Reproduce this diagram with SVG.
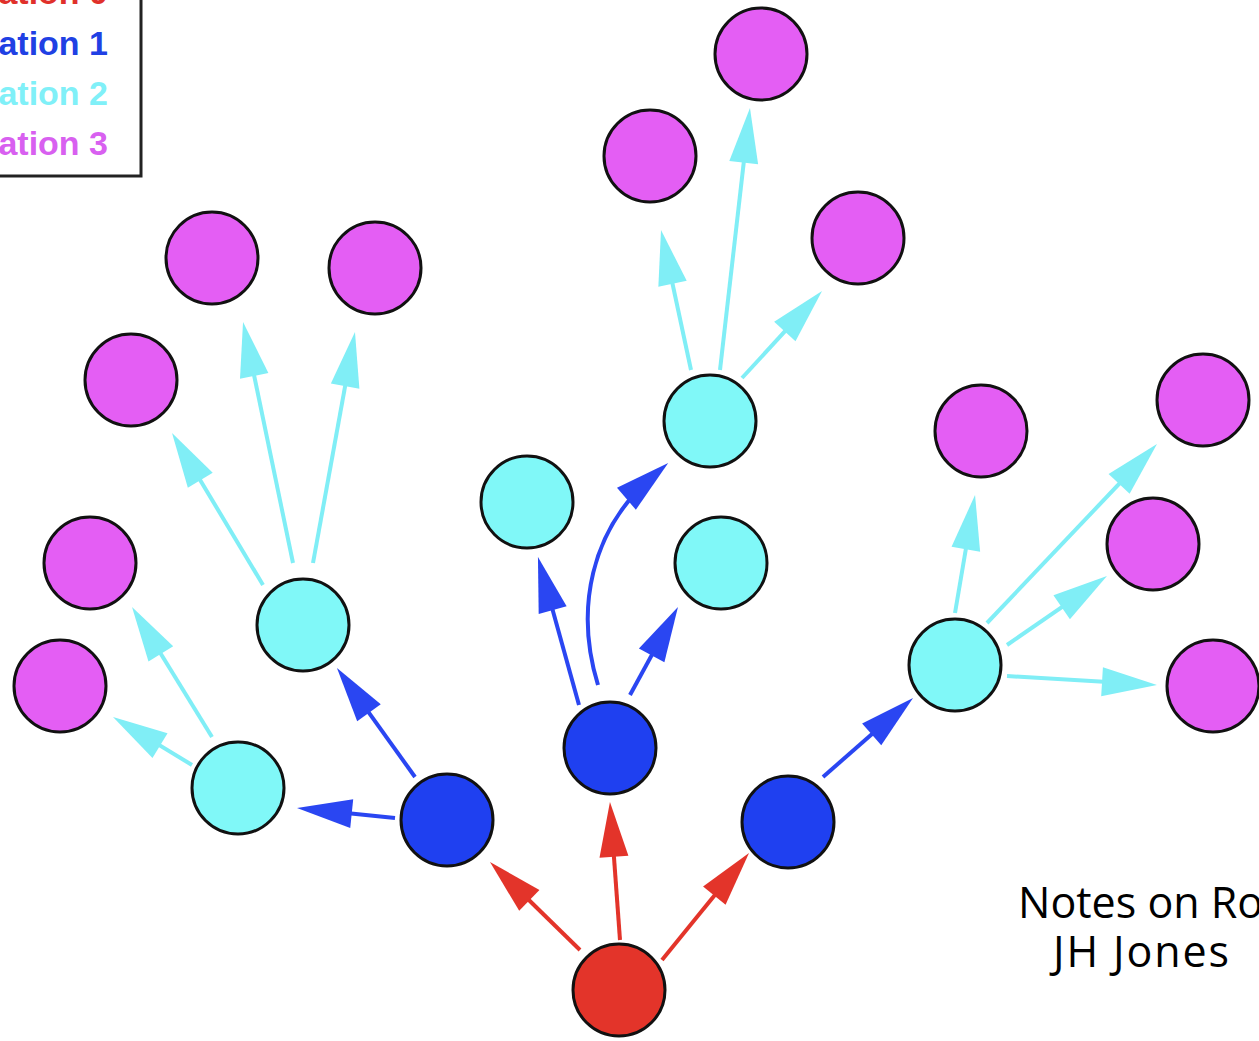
<svg xmlns="http://www.w3.org/2000/svg" width="1259" height="1041" viewBox="0 0 1259 1041">
<style>
.node{stroke:#111;stroke-width:3}
.g0{fill:#e3342a}
.g1{fill:#1f40f0}
.g2{fill:#80f8f8}
.g3{fill:#e45ef4}
.e{fill:none;stroke-width:4;stroke-linecap:butt}
.er{stroke:#e3342a}
.eb{stroke:#2a46f2}
.ec{stroke:#80eef6}
.leg{font-family:"Liberation Sans",Arial,sans-serif;font-weight:bold;font-size:34px;text-anchor:end}
.note{font-family:"Open Sans","Noto Sans",sans-serif;font-size:43px;fill:#000}
</style>
<defs>
<marker id="ar" markerUnits="userSpaceOnUse" markerWidth="60" markerHeight="32" viewBox="0 -16 60 32" refX="35" refY="0" orient="auto" overflow="visible"><path d="M0,-14.5 L55,0 L0,14.5 z" fill="#e3342a"/></marker>
<marker id="ab" markerUnits="userSpaceOnUse" markerWidth="60" markerHeight="32" viewBox="0 -16 60 32" refX="35" refY="0" orient="auto" overflow="visible"><path d="M0,-14.5 L55,0 L0,14.5 z" fill="#2a46f2"/></marker>
<marker id="ac" markerUnits="userSpaceOnUse" markerWidth="60" markerHeight="32" viewBox="0 -16 60 32" refX="35" refY="0" orient="auto" overflow="visible"><path d="M0,-14.5 L55,0 L0,14.5 z" fill="#80eef6"/></marker>
</defs>
<rect width="1259" height="1041" fill="#fff"/>
<g id="legend">
<rect x="-10" y="-10" width="151" height="186" fill="#fff" stroke="#222" stroke-width="3"/>
<text class="leg" x="108" y="4" fill="#e0302a">ation 0</text>
<text class="leg" x="108" y="55" fill="#2040e4">ation 1</text>
<text class="leg" x="108" y="105" fill="#80f0f8">ation 2</text>
<text class="leg" x="108" y="155" fill="#d860f0">ation 3</text>
</g>
<g id="connectors">
<path class="e er" d="M580,950 L504.3,876" marker-end="url(#ar)"/>
<path class="e er" d="M620,940 L611.4,821.9" marker-end="url(#ar)"/>
<path class="e er" d="M662,960 L736.4,868.5" marker-end="url(#ar)"/>
<path class="e eb" d="M395,818 L316.9,810" marker-end="url(#ab)"/>
<path class="e eb" d="M415,777 L348.6,684.3" marker-end="url(#ab)"/>
<path class="e eb" d="M579,705 L543.3,576.3" marker-end="url(#ab)"/>
<path class="e eb" d="M598,685 C575,610 590,530 653,476" marker-end="url(#ab)"/>
<path class="e eb" d="M630,695 L668.4,624.6" marker-end="url(#ab)"/>
<path class="e eb" d="M823,777 L898,711.2" marker-end="url(#ab)"/>
<path class="e ec" d="M192,765 L130.1,727.4" marker-end="url(#ac)"/>
<path class="e ec" d="M212,737 L142.5,624" marker-end="url(#ac)"/>
<path class="e ec" d="M263,585 L182.3,450.2" marker-end="url(#ac)"/>
<path class="e ec" d="M293,563 L247.1,341.6" marker-end="url(#ac)"/>
<path class="e ec" d="M313,563 L351.4,351.7" marker-end="url(#ac)"/>
<path class="e ec" d="M691,370 L665.2,249.6" marker-end="url(#ac)"/>
<path class="e ec" d="M720,370 L747.7,127.9" marker-end="url(#ac)"/>
<path class="e ec" d="M742,378 L808.5,305.7" marker-end="url(#ac)"/>
<path class="e ec" d="M955,613 L971.7,514.7" marker-end="url(#ac)"/>
<path class="e ec" d="M987,623 L1143.2,458.5" marker-end="url(#ac)"/>
<path class="e ec" d="M1007,645 L1090.5,587.4" marker-end="url(#ac)"/>
<path class="e ec" d="M1007,676 L1137,683.8" marker-end="url(#ac)"/>
</g>
<g id="n_root"><circle class="node g0" cx="619" cy="990" r="46"/></g>
<g id="n_b1"><circle class="node g1" cx="447" cy="820" r="46"/></g>
<g id="n_b2"><circle class="node g1" cx="610" cy="748" r="46"/></g>
<g id="n_b3"><circle class="node g1" cx="788" cy="822" r="46"/></g>
<g id="n_c1"><circle class="node g2" cx="238" cy="788" r="46"/></g>
<g id="n_c2"><circle class="node g2" cx="303" cy="625" r="46"/></g>
<g id="n_c3"><circle class="node g2" cx="527" cy="502" r="46"/></g>
<g id="n_c4"><circle class="node g2" cx="710" cy="421" r="46"/></g>
<g id="n_c5"><circle class="node g2" cx="721" cy="563" r="46"/></g>
<g id="n_c6"><circle class="node g2" cx="955" cy="665" r="46"/></g>
<g id="n_m1"><circle class="node g3" cx="60" cy="686" r="46"/></g>
<g id="n_m2"><circle class="node g3" cx="90" cy="563" r="46"/></g>
<g id="n_m3"><circle class="node g3" cx="131" cy="380" r="46"/></g>
<g id="n_m4"><circle class="node g3" cx="212" cy="258" r="46"/></g>
<g id="n_m5"><circle class="node g3" cx="375" cy="268" r="46"/></g>
<g id="n_m6"><circle class="node g3" cx="650" cy="156" r="46"/></g>
<g id="n_m7"><circle class="node g3" cx="761" cy="54" r="46"/></g>
<g id="n_m8"><circle class="node g3" cx="858" cy="238" r="46"/></g>
<g id="n_m9"><circle class="node g3" cx="981" cy="431" r="46"/></g>
<g id="n_m10"><circle class="node g3" cx="1203" cy="400" r="46"/></g>
<g id="n_m11"><circle class="node g3" cx="1153" cy="544" r="46"/></g>
<g id="n_m12"><circle class="node g3" cx="1213" cy="686" r="46"/></g>
<g id="notes">
<text class="note" x="1018" y="918">Notes on Ro</text>
<text class="note" x="1053" y="967" textLength="176" lengthAdjust="spacing">JH Jones</text>
</g>
</svg>
